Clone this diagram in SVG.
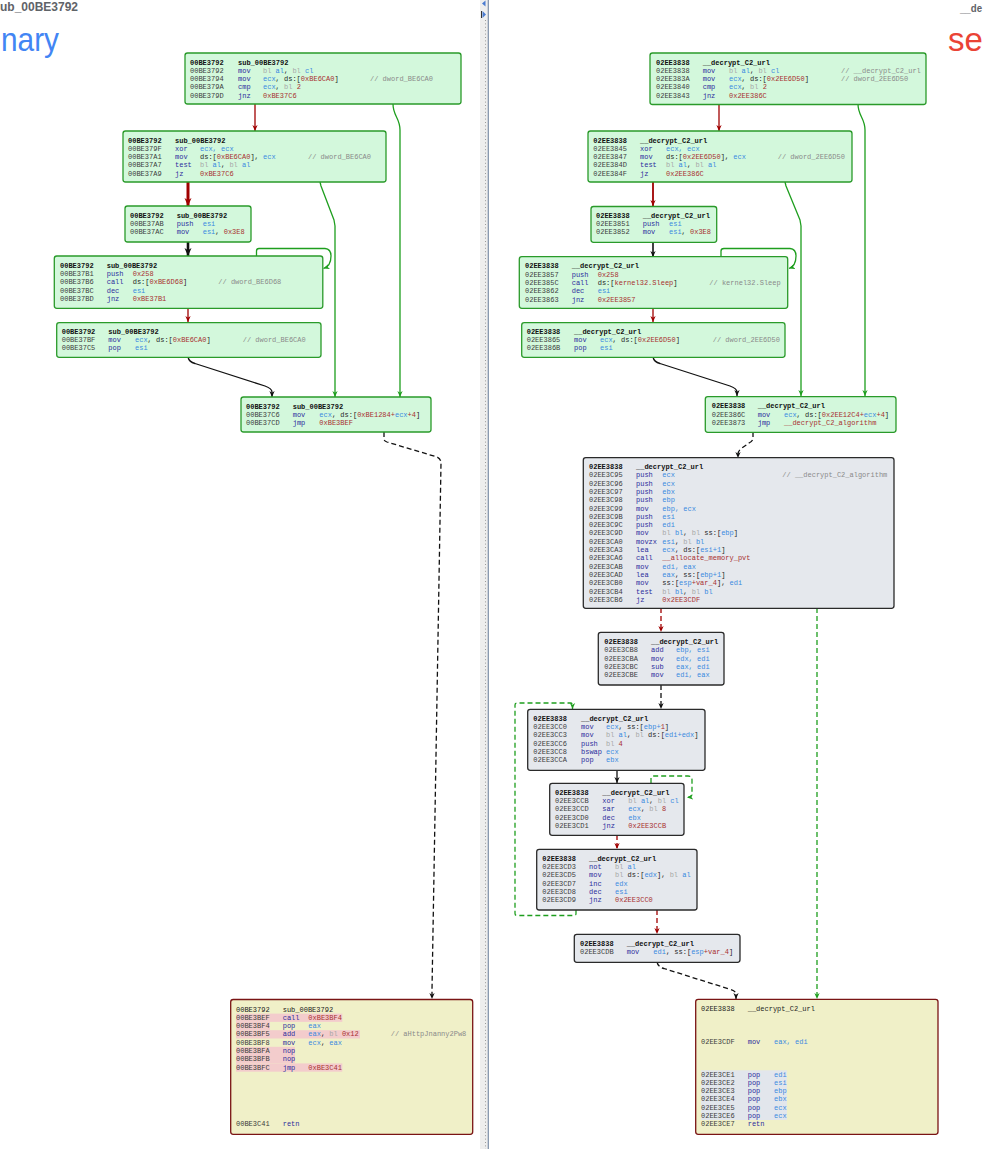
<svg xmlns="http://www.w3.org/2000/svg" width="988" height="1149" viewBox="0 0 988 1149">
<style>
.t{font-family:"Liberation Mono","DejaVu Sans Mono",monospace;font-size:7px;white-space:pre}
.a{fill:#3c3c3c}
.h{fill:#111;font-weight:bold}
.y{fill:#222}
.m{fill:#2c2c9c}
.r{fill:#3a8ae0}
.g{fill:#a8a8a8}
.n{fill:#a83030}
.k{fill:#222}
.c{fill:#8a8a8a}
.ng{fill:#d3f8dc;stroke:#2a9a2a;stroke-width:1.3}
.nb{fill:#e5e8ed;stroke:#2a2a2a;stroke-width:1.3}
.ny{fill:#f0f0c8;stroke:#7a1414;stroke-width:1.3}
.e{fill:none;stroke-width:1.3;stroke-linejoin:round}
.er{stroke:#a00000}
.eg{stroke:#1e9e1e}
.ek{stroke:#111}
.d{stroke-dasharray:5 3}
.hp{fill:#f3cccc}
.hg{fill:#e2e6ec}
</style>
<defs>
<marker id="mr" viewBox="0 0 8 8" refX="8" refY="4" markerWidth="6" markerHeight="6" markerUnits="userSpaceOnUse" orient="auto"><path d="M0,0.5 L8,4 L0,7.5 L2.2,4 z" fill="#a00000"/></marker>
<marker id="mg" viewBox="0 0 8 8" refX="8" refY="4" markerWidth="6" markerHeight="6" markerUnits="userSpaceOnUse" orient="auto"><path d="M0,0.5 L8,4 L0,7.5 L2.2,4 z" fill="#1e9e1e"/></marker>
<marker id="mk" viewBox="0 0 8 8" refX="8" refY="4" markerWidth="6" markerHeight="6" markerUnits="userSpaceOnUse" orient="auto"><path d="M0,0.5 L8,4 L0,7.5 L2.2,4 z" fill="#111"/></marker>
<marker id="mrb" viewBox="0 0 8 8" refX="8" refY="4" markerWidth="8" markerHeight="8" markerUnits="userSpaceOnUse" orient="auto"><path d="M0,0.5 L8,4 L0,7.5 L2.2,4 z" fill="#a00000"/></marker>
<marker id="mkb" viewBox="0 0 8 8" refX="8" refY="4" markerWidth="8" markerHeight="8" markerUnits="userSpaceOnUse" orient="auto"><path d="M0,0.5 L8,4 L0,7.5 L2.2,4 z" fill="#111"/></marker>
</defs>
<rect x="0" y="0" width="988" height="1149" fill="#ffffff"/>

<g id="headers">
<text x="0" y="11" font-family="Liberation Sans,Arial,sans-serif" font-size="12" font-weight="bold" fill="#5f6368">ub_00BE3792</text>
<text x="1" y="51" font-family="Liberation Sans,Arial,sans-serif" font-size="33" fill="#4285f4" textLength="58" lengthAdjust="spacingAndGlyphs">nary</text>
<text x="960" y="11.5" font-family="Liberation Sans,Arial,sans-serif" font-size="11.5" font-weight="bold" fill="#5f6368" textLength="22" lengthAdjust="spacingAndGlyphs">__de</text>
<text x="948" y="51" font-family="Liberation Sans,Arial,sans-serif" font-size="33" fill="#ea4335">se</text>
</g>

<g id="divider">
<rect x="480" y="0" width="8" height="1149" fill="#eeeeee"/>
<line x1="485.5" y1="20" x2="485.5" y2="1149" stroke="#9a9a9a" stroke-width="1" stroke-dasharray="1 2.4"/>
<line x1="488.3" y1="0" x2="488.3" y2="1149" stroke="#7d8fa8" stroke-width="1.2"/>
<path d="M485.5,0.5 L482,3.5 L485.5,6.5 z" fill="#4a7bd0"/>
<rect x="481" y="11" width="1" height="7" fill="#333"/>
<path d="M482.5,11 L486,14.5 L482.5,18 z" fill="#4a7bd0"/>
</g>

<g id="edges">
<path class="e er" d="M255,104 V131" marker-end="url(#mr)"/>
<path class="e eg" d="M393,104 C393,116 400,118 400,130 V397" marker-end="url(#mg)"/>
<path class="e eg" d="M320,182 L321,186 L334,220 L335,226 V397" marker-end="url(#mg)"/>
<path class="e er" style="stroke-width:3" d="M188,182 V206" marker-end="url(#mrb)"/>
<path class="e ek" style="stroke-width:2.6" d="M188,242 V256" marker-end="url(#mkb)"/>
<path class="e eg" d="M256.5,256 V251 Q256.5,248.5 259,248.5 H325 Q331,249 331,256 Q331,266 323.5,268.5" marker-end="url(#mg)"/>
<path class="e er" d="M188,308 V322" marker-end="url(#mr)"/>
<path class="e ek" d="M188,357 Q189,362 195,363.5 L265,386 Q272,388.5 272,392 V397" marker-end="url(#mk)"/>
<path class="e ek d" d="M384,432 V439 Q384,441 387,442 L437,457 Q441,459 441,463 L432,990 V999" marker-end="url(#mk)"/>

<path class="e er" d="M719,104 V131" marker-end="url(#mr)"/>
<path class="e eg" d="M858,104 C858,116 865,118 865,130 V396" marker-end="url(#mg)"/>
<path class="e eg" d="M785,182 L786,186 L800,220 L801,226 V396" marker-end="url(#mg)"/>
<path class="e er" style="stroke-width:1.8" d="M653,182 V206" marker-end="url(#mr)"/>
<path class="e ek" style="stroke-width:1.6" d="M653,242 V257" marker-end="url(#mk)"/>
<path class="e eg" d="M721,257 V251 Q721,248.5 724,248.5 H790 Q796,249 796,256 Q796,266 789,268.5" marker-end="url(#mg)"/>
<path class="e er" d="M653,308 V322" marker-end="url(#mr)"/>
<path class="e ek" d="M653,357 Q654,362 660,363.5 L730,386 Q737,388.5 737,392 V396" marker-end="url(#mk)"/>
<path class="e ek d" d="M753,432 V438 Q753,441 749,443 L742,448 Q738,451 738,454 V458" marker-end="url(#mk)"/>
<path class="e er d" d="M661,608 V632" marker-end="url(#mr)"/>
<path class="e eg d" d="M817,608 V999" marker-end="url(#mg)"/>
<path class="e ek d" d="M661,685 V709" marker-end="url(#mk)"/>
<path class="e eg d" d="M576,910 V913.5 Q576,915.5 574,915.5 H517 Q515,915.5 515,913.5 V705 Q515,703 517,703 H570.5 Q572.5,703 572.5,705.5 V709" marker-end="url(#mg)"/>
<path class="e ek" d="M617,770 V783" marker-end="url(#mk)"/>
<path class="e eg d" d="M651,783 V778 Q651,776 653,776 H688 Q692,776 692,780 V794 Q692,797 687,797.5" marker-end="url(#mg)"/>
<path class="e er d" d="M617,835 V849" marker-end="url(#mr)"/>
<path class="e er d" d="M657,910 V934" marker-end="url(#mr)"/>
<path class="e ek d" d="M657,962 Q658,967 664,968.5 L729,989 Q736,991 736,994 V999" marker-end="url(#mk)"/>
</g>

<g id="L1">
<rect class="ng" x="185" y="53" width="276" height="51" rx="2.5"/>
<text class="t" y="64.5"><tspan x="190" class="h">00BE3792</tspan><tspan x="238" class="h">sub_00BE3792</tspan></text>
<text class="t" y="72.8"><tspan x="190" class="a">00BE3792</tspan><tspan x="238" class="m">mov</tspan><tspan x="263" class="g">bl </tspan><tspan class="r">al</tspan><tspan class="k">, </tspan><tspan class="g">bl </tspan><tspan class="r">cl</tspan></text>
<text class="t" y="81.1"><tspan x="190" class="a">00BE3794</tspan><tspan x="238" class="m">mov</tspan><tspan x="263" class="r">ecx</tspan><tspan class="k">, ds:[</tspan><tspan class="n">0xBE6CA0</tspan><tspan class="k">]</tspan><tspan x="370" class="c">// dword_BE6CA0</tspan></text>
<text class="t" y="89.4"><tspan x="190" class="a">00BE379A</tspan><tspan x="238" class="m">cmp</tspan><tspan x="263" class="r">ecx</tspan><tspan class="k">, </tspan><tspan class="g">bl </tspan><tspan class="n">2</tspan></text>
<text class="t" y="97.7"><tspan x="190" class="a">00BE379D</tspan><tspan x="238" class="m">jnz</tspan><tspan x="263" class="n">0xBE37C6</tspan></text>
</g>

<g id="L2">
<rect class="ng" x="123" y="131" width="263" height="51" rx="2.5"/>
<text class="t" y="142.5"><tspan x="128" class="h">00BE3792</tspan><tspan x="175" class="h">sub_00BE3792</tspan></text>
<text class="t" y="150.8"><tspan x="128" class="a">00BE379F</tspan><tspan x="175" class="m">xor</tspan><tspan x="200" class="r">ecx, ecx</tspan></text>
<text class="t" y="159.1"><tspan x="128" class="a">00BE37A1</tspan><tspan x="175" class="m">mov</tspan><tspan x="200" class="k">ds:[</tspan><tspan class="n">0xBE6CA0</tspan><tspan class="k">], </tspan><tspan class="r">ecx</tspan><tspan x="308" class="c">// dword_BE6CA0</tspan></text>
<text class="t" y="167.4"><tspan x="128" class="a">00BE37A7</tspan><tspan x="175" class="m">test</tspan><tspan x="200" class="g">bl </tspan><tspan class="r">al</tspan><tspan class="k">, </tspan><tspan class="g">bl </tspan><tspan class="r">al</tspan></text>
<text class="t" y="175.7"><tspan x="128" class="a">00BE37A9</tspan><tspan x="175" class="m">jz</tspan><tspan x="200" class="n">0xBE37C6</tspan></text>
</g>

<g id="L3">
<rect class="ng" x="125" y="206" width="126" height="36" rx="2.5"/>
<text class="t" y="217.5"><tspan x="130" class="h">00BE3792</tspan><tspan x="176.7" class="h">sub_00BE3792</tspan></text>
<text class="t" y="225.8"><tspan x="130" class="a">00BE37AB</tspan><tspan x="176.7" class="m">push</tspan><tspan x="202.7" class="r">esi</tspan></text>
<text class="t" y="234.1"><tspan x="130" class="a">00BE37AC</tspan><tspan x="176.7" class="m">mov</tspan><tspan x="202.7" class="r">esi</tspan><tspan class="k">, </tspan><tspan class="n">0x3E8</tspan></text>
</g>

<g id="L4">
<rect class="ng" x="54.3" y="256" width="268.5" height="52.3" rx="2.5"/>
<text class="t" y="267.8"><tspan x="60" class="h">00BE3792</tspan><tspan x="106.7" class="h">sub_00BE3792</tspan></text>
<text class="t" y="276.1"><tspan x="60" class="a">00BE37B1</tspan><tspan x="106.7" class="m">push</tspan><tspan x="132.7" class="n">0x258</tspan></text>
<text class="t" y="284.4"><tspan x="60" class="a">00BE37B6</tspan><tspan x="106.7" class="m">call</tspan><tspan x="132.7" class="k">ds:[</tspan><tspan class="n">0xBE6D68</tspan><tspan class="k">]</tspan><tspan x="218.3" class="c">// dword_BE6D68</tspan></text>
<text class="t" y="292.7"><tspan x="60" class="a">00BE37BC</tspan><tspan x="106.7" class="m">dec</tspan><tspan x="132.7" class="r">esi</tspan></text>
<text class="t" y="301"><tspan x="60" class="a">00BE37BD</tspan><tspan x="106.7" class="m">jnz</tspan><tspan x="132.7" class="n">0xBE37B1</tspan></text>
</g>

<g id="L5">
<rect class="ng" x="56.7" y="322.7" width="264.3" height="34.6" rx="2.5"/>
<text class="t" y="333.8"><tspan x="61.7" class="h">00BE3792</tspan><tspan x="108.3" class="h">sub_00BE3792</tspan></text>
<text class="t" y="342.1"><tspan x="61.7" class="a">00BE37BF</tspan><tspan x="108.3" class="m">mov</tspan><tspan x="135" class="r">ecx</tspan><tspan class="k">, ds:[</tspan><tspan class="n">0xBE6CA0</tspan><tspan class="k">]</tspan><tspan x="242.7" class="c">// dword_BE6CA0</tspan></text>
<text class="t" y="350.4"><tspan x="61.7" class="a">00BE37C5</tspan><tspan x="108.3" class="m">pop</tspan><tspan x="135" class="r">esi</tspan></text>
</g>

<g id="L6">
<rect class="ng" x="241" y="397" width="190" height="35" rx="2.5"/>
<text class="t" y="408.5"><tspan x="246" class="h">00BE3792</tspan><tspan x="292.7" class="h">sub_00BE3792</tspan></text>
<text class="t" y="416.8"><tspan x="246" class="a">00BE37C6</tspan><tspan x="292.7" class="m">mov</tspan><tspan x="319.3" class="r">ecx</tspan><tspan class="k">, ds:[</tspan><tspan class="n">0xBE1284+</tspan><tspan class="r">ecx</tspan><tspan class="n">+4</tspan><tspan class="k">]</tspan></text>
<text class="t" y="425.1"><tspan x="246" class="a">00BE37CD</tspan><tspan x="292.7" class="m">jmp</tspan><tspan x="319.3" class="n">0xBE3BEF</tspan></text>
</g>

<g id="L7">
<rect class="ny" x="230.7" y="999.5" width="242" height="134.8" rx="2.5"/>
<rect class="hp" x="236" y="1013.6" width="106.3" height="8.3"/>
<rect class="hp" x="236" y="1021.9" width="34" height="8.3"/>
<rect class="hp" x="236" y="1030.2" width="124" height="8.3"/>
<rect class="hp" x="236" y="1046.8" width="59" height="16.6"/>
<rect class="hp" x="236" y="1063.4" width="106.3" height="8.3"/>
<text class="t" y="1011.5"><tspan x="236" class="y">00BE3792</tspan><tspan x="282.7" class="y">sub_00BE3792</tspan></text>
<text class="t" y="1019.8"><tspan x="236" class="a">00BE3BEF</tspan><tspan x="282.7" class="m">call</tspan><tspan x="308.3" class="n">0xBE3BF4</tspan></text>
<text class="t" y="1028.1"><tspan x="236" class="a">00BE3BF4</tspan><tspan x="282.7" class="m">pop</tspan><tspan x="308.3" class="r">eax</tspan></text>
<text class="t" y="1036.4"><tspan x="236" class="a">00BE3BF5</tspan><tspan x="282.7" class="m">add</tspan><tspan x="308.3" class="r">eax</tspan><tspan class="k">, </tspan><tspan class="g">bl </tspan><tspan class="n">0x12</tspan><tspan x="390.7" class="c">// aHttpJnanny2Pw8</tspan></text>
<text class="t" y="1044.7"><tspan x="236" class="a">00BE3BF8</tspan><tspan x="282.7" class="m">mov</tspan><tspan x="308.3" class="r">ecx</tspan><tspan class="k">, </tspan><tspan class="r">eax</tspan></text>
<text class="t" y="1053"><tspan x="236" class="a">00BE3BFA</tspan><tspan x="282.7" class="m">nop</tspan></text>
<text class="t" y="1061.3"><tspan x="236" class="a">00BE3BFB</tspan><tspan x="282.7" class="m">nop</tspan></text>
<text class="t" y="1069.6"><tspan x="236" class="a">00BE3BFC</tspan><tspan x="282.7" class="m">jmp</tspan><tspan x="308.3" class="n">0xBE3C41</tspan></text>
<text class="t" y="1126.3"><tspan x="236" class="a">00BE3C41</tspan><tspan x="282.7" class="m">retn</tspan></text>
</g>

<g id="R1">
<rect class="ng" x="650" y="53" width="276" height="51.5" rx="2.5"/>
<text class="t" y="64.5"><tspan x="656" class="h">02EE3838</tspan><tspan x="702.7" class="h">__decrypt_C2_url</tspan></text>
<text class="t" y="72.8"><tspan x="656" class="a">02EE3838</tspan><tspan x="702.7" class="m">mov</tspan><tspan x="729" class="g">bl </tspan><tspan class="r">al</tspan><tspan class="k">, </tspan><tspan class="g">bl </tspan><tspan class="r">cl</tspan><tspan x="841" class="c">// __decrypt_C2_url</tspan></text>
<text class="t" y="81.1"><tspan x="656" class="a">02EE383A</tspan><tspan x="702.7" class="m">mov</tspan><tspan x="729" class="r">ecx</tspan><tspan class="k">, ds:[</tspan><tspan class="n">0x2EE6D50</tspan><tspan class="k">]</tspan><tspan x="841" class="c">// dword_2EE6D50</tspan></text>
<text class="t" y="89.4"><tspan x="656" class="a">02EE3840</tspan><tspan x="702.7" class="m">cmp</tspan><tspan x="729" class="r">ecx</tspan><tspan class="k">, </tspan><tspan class="g">bl </tspan><tspan class="n">2</tspan></text>
<text class="t" y="97.7"><tspan x="656" class="a">02EE3843</tspan><tspan x="702.7" class="m">jnz</tspan><tspan x="729" class="n">0x2EE386C</tspan></text>
</g>

<g id="R2">
<rect class="ng" x="588" y="131" width="264" height="51" rx="2.5"/>
<text class="t" y="142.5"><tspan x="593.3" class="h">02EE3838</tspan><tspan x="640" class="h">__decrypt_C2_url</tspan></text>
<text class="t" y="150.8"><tspan x="593.3" class="a">02EE3845</tspan><tspan x="640" class="m">xor</tspan><tspan x="666" class="r">ecx, ecx</tspan></text>
<text class="t" y="159.1"><tspan x="593.3" class="a">02EE3847</tspan><tspan x="640" class="m">mov</tspan><tspan x="666" class="k">ds:[</tspan><tspan class="n">0x2EE6D50</tspan><tspan class="k">], </tspan><tspan class="r">ecx</tspan><tspan x="777.7" class="c">// dword_2EE6D50</tspan></text>
<text class="t" y="167.4"><tspan x="593.3" class="a">02EE384D</tspan><tspan x="640" class="m">test</tspan><tspan x="666" class="g">bl </tspan><tspan class="r">al</tspan><tspan class="k">, </tspan><tspan class="g">bl </tspan><tspan class="r">al</tspan></text>
<text class="t" y="175.7"><tspan x="593.3" class="a">02EE384F</tspan><tspan x="640" class="m">jz</tspan><tspan x="666" class="n">0x2EE386C</tspan></text>
</g>

<g id="R3">
<rect class="ng" x="591" y="206.5" width="125.7" height="35.8" rx="2.5"/>
<text class="t" y="217.8"><tspan x="596" class="h">02EE3838</tspan><tspan x="642.7" class="h">__decrypt_C2_url</tspan></text>
<text class="t" y="226.1"><tspan x="596" class="a">02EE3851</tspan><tspan x="642.7" class="m">push</tspan><tspan x="669" class="r">esi</tspan></text>
<text class="t" y="234.4"><tspan x="596" class="a">02EE3852</tspan><tspan x="642.7" class="m">mov</tspan><tspan x="669" class="r">esi</tspan><tspan class="k">, </tspan><tspan class="n">0x3E8</tspan></text>
</g>

<g id="R4">
<rect class="ng" x="519.3" y="256.7" width="268.4" height="51.6" rx="2.5"/>
<text class="t" y="268.3"><tspan x="525" class="h">02EE3838</tspan><tspan x="571.7" class="h">__decrypt_C2_url</tspan></text>
<text class="t" y="276.6"><tspan x="525" class="a">02EE3857</tspan><tspan x="571.7" class="m">push</tspan><tspan x="597.7" class="n">0x258</tspan></text>
<text class="t" y="284.9"><tspan x="525" class="a">02EE385C</tspan><tspan x="571.7" class="m">call</tspan><tspan x="597.7" class="k">ds:[</tspan><tspan class="n">kernel32.Sleep</tspan><tspan class="k">]</tspan><tspan x="709.3" class="c">// kernel32.Sleep</tspan></text>
<text class="t" y="293.2"><tspan x="525" class="a">02EE3862</tspan><tspan x="571.7" class="m">dec</tspan><tspan x="597.7" class="r">esi</tspan></text>
<text class="t" y="301.5"><tspan x="525" class="a">02EE3863</tspan><tspan x="571.7" class="m">jnz</tspan><tspan x="597.7" class="n">0x2EE3857</tspan></text>
</g>

<g id="R5">
<rect class="ng" x="521.7" y="322.7" width="263.3" height="34.6" rx="2.5"/>
<text class="t" y="333.8"><tspan x="526.7" class="h">02EE3838</tspan><tspan x="574" class="h">__decrypt_C2_url</tspan></text>
<text class="t" y="342.1"><tspan x="526.7" class="a">02EE3865</tspan><tspan x="574" class="m">mov</tspan><tspan x="600" class="r">ecx</tspan><tspan class="k">, ds:[</tspan><tspan class="n">0x2EE6D50</tspan><tspan class="k">]</tspan><tspan x="712.7" class="c">// dword_2EE6D50</tspan></text>
<text class="t" y="350.4"><tspan x="526.7" class="a">02EE386B</tspan><tspan x="574" class="m">pop</tspan><tspan x="600" class="r">esi</tspan></text>
</g>

<g id="R6">
<rect class="ng" x="705.3" y="396.7" width="190.7" height="35.6" rx="2.5"/>
<text class="t" y="408.2"><tspan x="711.7" class="h">02EE3838</tspan><tspan x="757.7" class="h">__decrypt_C2_url</tspan></text>
<text class="t" y="416.5"><tspan x="711.7" class="a">02EE386C</tspan><tspan x="757.7" class="m">mov</tspan><tspan x="784" class="r">ecx</tspan><tspan class="k">, ds:[</tspan><tspan class="n">0x2EE12C4+</tspan><tspan class="r">ecx</tspan><tspan class="n">+4</tspan><tspan class="k">]</tspan></text>
<text class="t" y="424.8"><tspan x="711.7" class="a">02EE3873</tspan><tspan x="757.7" class="m">jmp</tspan><tspan x="784" class="n">__decrypt_C2_algorithm</tspan></text>
</g>

<g id="R7">
<rect class="nb" x="583.3" y="457.7" width="310.7" height="150.6" rx="2.5"/>
<text class="t" y="469"><tspan x="589" class="h">02EE3838</tspan><tspan x="636" class="h">__decrypt_C2_url</tspan></text>
<text class="t" y="477.3"><tspan x="589" class="a">02EE3C95</tspan><tspan x="636" class="m">push</tspan><tspan x="662.3" class="r">ecx</tspan><tspan x="782.3" class="c">// __decrypt_C2_algorithm</tspan></text>
<text class="t" y="485.6"><tspan x="589" class="a">02EE3C96</tspan><tspan x="636" class="m">push</tspan><tspan x="662.3" class="r">ecx</tspan></text>
<text class="t" y="493.9"><tspan x="589" class="a">02EE3C97</tspan><tspan x="636" class="m">push</tspan><tspan x="662.3" class="r">ebx</tspan></text>
<text class="t" y="502.2"><tspan x="589" class="a">02EE3C98</tspan><tspan x="636" class="m">push</tspan><tspan x="662.3" class="r">ebp</tspan></text>
<text class="t" y="510.5"><tspan x="589" class="a">02EE3C99</tspan><tspan x="636" class="m">mov</tspan><tspan x="662.3" class="r">ebp, ecx</tspan></text>
<text class="t" y="518.8"><tspan x="589" class="a">02EE3C9B</tspan><tspan x="636" class="m">push</tspan><tspan x="662.3" class="r">esi</tspan></text>
<text class="t" y="527.1"><tspan x="589" class="a">02EE3C9C</tspan><tspan x="636" class="m">push</tspan><tspan x="662.3" class="r">edi</tspan></text>
<text class="t" y="535.4"><tspan x="589" class="a">02EE3C9D</tspan><tspan x="636" class="m">mov</tspan><tspan x="662.3" class="g">bl </tspan><tspan class="r">bl</tspan><tspan class="k">, </tspan><tspan class="g">bl </tspan><tspan class="k">ss:[</tspan><tspan class="r">ebp</tspan><tspan class="k">]</tspan></text>
<text class="t" y="543.7"><tspan x="589" class="a">02EE3CA0</tspan><tspan x="636" class="m">movzx</tspan><tspan x="662.3" class="r">esi</tspan><tspan class="k">, </tspan><tspan class="g">bl </tspan><tspan class="r">bl</tspan></text>
<text class="t" y="552"><tspan x="589" class="a">02EE3CA3</tspan><tspan x="636" class="m">lea</tspan><tspan x="662.3" class="r">ecx</tspan><tspan class="k">, ds:[</tspan><tspan class="r">esi+1</tspan><tspan class="k">]</tspan></text>
<text class="t" y="560.3"><tspan x="589" class="a">02EE3CA6</tspan><tspan x="636" class="m">call</tspan><tspan x="662.3" class="n">__allocate_memory_pvt</tspan></text>
<text class="t" y="568.6"><tspan x="589" class="a">02EE3CAB</tspan><tspan x="636" class="m">mov</tspan><tspan x="662.3" class="r">edi, eax</tspan></text>
<text class="t" y="576.9"><tspan x="589" class="a">02EE3CAD</tspan><tspan x="636" class="m">lea</tspan><tspan x="662.3" class="r">eax</tspan><tspan class="k">, ss:[</tspan><tspan class="r">ebp+1</tspan><tspan class="k">]</tspan></text>
<text class="t" y="585.2"><tspan x="589" class="a">02EE3CB0</tspan><tspan x="636" class="m">mov</tspan><tspan x="662.3" class="k">ss:[</tspan><tspan class="r">esp</tspan><tspan class="n">+var_4</tspan><tspan class="k">], </tspan><tspan class="r">edi</tspan></text>
<text class="t" y="593.5"><tspan x="589" class="a">02EE3CB4</tspan><tspan x="636" class="m">test</tspan><tspan x="662.3" class="g">bl </tspan><tspan class="r">bl</tspan><tspan class="k">, </tspan><tspan class="g">bl </tspan><tspan class="r">bl</tspan></text>
<text class="t" y="601.8"><tspan x="589" class="a">02EE3CB6</tspan><tspan x="636" class="m">jz</tspan><tspan x="662.3" class="n">0x2EE3CDF</tspan></text>
</g>

<g id="R8">
<rect class="nb" x="598.3" y="632.3" width="125.7" height="52.7" rx="2.5"/>
<text class="t" y="644"><tspan x="604.3" class="h">02EE3838</tspan><tspan x="651" class="h">__decrypt_C2_url</tspan></text>
<text class="t" y="652.3"><tspan x="604.3" class="a">02EE3CB8</tspan><tspan x="651" class="m">add</tspan><tspan x="676" class="r">ebp, esi</tspan></text>
<text class="t" y="660.6"><tspan x="604.3" class="a">02EE3CBA</tspan><tspan x="651" class="m">mov</tspan><tspan x="676" class="r">edx, edi</tspan></text>
<text class="t" y="668.9"><tspan x="604.3" class="a">02EE3CBC</tspan><tspan x="651" class="m">sub</tspan><tspan x="676" class="r">eax, edi</tspan></text>
<text class="t" y="677.2"><tspan x="604.3" class="a">02EE3CBE</tspan><tspan x="651" class="m">mov</tspan><tspan x="676" class="r">edi, eax</tspan></text>
</g>

<g id="R9">
<rect class="nb" x="527.7" y="709.3" width="177.3" height="61" rx="2.5"/>
<text class="t" y="720.8"><tspan x="533.3" class="h">02EE3838</tspan><tspan x="581" class="h">__decrypt_C2_url</tspan></text>
<text class="t" y="729.1"><tspan x="533.3" class="a">02EE3CC0</tspan><tspan x="581" class="m">mov</tspan><tspan x="606" class="r">ecx</tspan><tspan class="k">, ss:[</tspan><tspan class="r">ebp+</tspan><tspan class="n">1</tspan><tspan class="k">]</tspan></text>
<text class="t" y="737.4"><tspan x="533.3" class="a">02EE3CC3</tspan><tspan x="581" class="m">mov</tspan><tspan x="606" class="g">bl </tspan><tspan class="r">al</tspan><tspan class="k">, </tspan><tspan class="g">bl </tspan><tspan class="k">ds:[</tspan><tspan class="r">edi+edx</tspan><tspan class="k">]</tspan></text>
<text class="t" y="745.7"><tspan x="533.3" class="a">02EE3CC6</tspan><tspan x="581" class="m">push</tspan><tspan x="606" class="g">bl </tspan><tspan class="n">4</tspan></text>
<text class="t" y="754"><tspan x="533.3" class="a">02EE3CC8</tspan><tspan x="581" class="m">bswap</tspan><tspan x="606" class="r">ecx</tspan></text>
<text class="t" y="762.3"><tspan x="533.3" class="a">02EE3CCA</tspan><tspan x="581" class="m">pop</tspan><tspan x="606" class="r">ebx</tspan></text>
</g>

<g id="R10">
<rect class="nb" x="549.7" y="783.3" width="134.3" height="52" rx="2.5"/>
<text class="t" y="794.8"><tspan x="555" class="h">02EE3838</tspan><tspan x="602.3" class="h">__decrypt_C2_url</tspan></text>
<text class="t" y="803.1"><tspan x="555" class="a">02EE3CCB</tspan><tspan x="602.3" class="m">xor</tspan><tspan x="628.3" class="g">bl </tspan><tspan class="r">al</tspan><tspan class="k">, </tspan><tspan class="g">bl </tspan><tspan class="r">cl</tspan></text>
<text class="t" y="811.4"><tspan x="555" class="a">02EE3CCD</tspan><tspan x="602.3" class="m">sar</tspan><tspan x="628.3" class="r">ecx</tspan><tspan class="k">, </tspan><tspan class="g">bl </tspan><tspan class="n">8</tspan></text>
<text class="t" y="819.7"><tspan x="555" class="a">02EE3CD0</tspan><tspan x="602.3" class="m">dec</tspan><tspan x="628.3" class="r">ebx</tspan></text>
<text class="t" y="828"><tspan x="555" class="a">02EE3CD1</tspan><tspan x="602.3" class="m">jnz</tspan><tspan x="628.3" class="n">0x2EE3CCB</tspan></text>
</g>

<g id="R11">
<rect class="nb" x="536.7" y="849.3" width="160.3" height="60.7" rx="2.5"/>
<text class="t" y="860.8"><tspan x="542.3" class="h">02EE3838</tspan><tspan x="589" class="h">__decrypt_C2_url</tspan></text>
<text class="t" y="869.1"><tspan x="542.3" class="a">02EE3CD3</tspan><tspan x="589" class="m">not</tspan><tspan x="615" class="g">bl </tspan><tspan class="r">al</tspan></text>
<text class="t" y="877.4"><tspan x="542.3" class="a">02EE3CD5</tspan><tspan x="589" class="m">mov</tspan><tspan x="615" class="g">bl </tspan><tspan class="k">ds:[</tspan><tspan class="r">edx</tspan><tspan class="k">], </tspan><tspan class="g">bl </tspan><tspan class="r">al</tspan></text>
<text class="t" y="885.7"><tspan x="542.3" class="a">02EE3CD7</tspan><tspan x="589" class="m">inc</tspan><tspan x="615" class="r">edx</tspan></text>
<text class="t" y="894"><tspan x="542.3" class="a">02EE3CD8</tspan><tspan x="589" class="m">dec</tspan><tspan x="615" class="r">esi</tspan></text>
<text class="t" y="902.3"><tspan x="542.3" class="a">02EE3CD9</tspan><tspan x="589" class="m">jnz</tspan><tspan x="615" class="n">0x2EE3CC0</tspan></text>
</g>

<g id="R12">
<rect class="nb" x="574.3" y="934.3" width="165.7" height="28" rx="2.5"/>
<text class="t" y="945.7"><tspan x="580" class="h">02EE3838</tspan><tspan x="626.7" class="h">__decrypt_C2_url</tspan></text>
<text class="t" y="954"><tspan x="580" class="a">02EE3CDB</tspan><tspan x="626.7" class="m">mov</tspan><tspan x="653.3" class="r">edi</tspan><tspan class="k">, ss:[</tspan><tspan class="r">esp</tspan><tspan class="n">+var_4</tspan><tspan class="k">]</tspan></text>
</g>

<g id="R13">
<rect class="ny" x="695.7" y="999.3" width="242.3" height="135" rx="2.5"/>
<rect class="hg" x="701" y="1070.3" width="86" height="49.7"/>
<text class="t" y="1010.7"><tspan x="701" class="y">02EE3838</tspan><tspan x="747.7" class="y">__decrypt_C2_url</tspan></text>
<text class="t" y="1044.2"><tspan x="701" class="a">02EE3CDF</tspan><tspan x="747.7" class="m">mov</tspan><tspan x="774" class="r">eax, edi</tspan></text>
<text class="t" y="1076.5"><tspan x="701" class="a">02EE3CE1</tspan><tspan x="747.7" class="m">pop</tspan><tspan x="774" class="r">edi</tspan></text>
<text class="t" y="1084.8"><tspan x="701" class="a">02EE3CE2</tspan><tspan x="747.7" class="m">pop</tspan><tspan x="774" class="r">esi</tspan></text>
<text class="t" y="1093.1"><tspan x="701" class="a">02EE3CE3</tspan><tspan x="747.7" class="m">pop</tspan><tspan x="774" class="r">ebp</tspan></text>
<text class="t" y="1101.4"><tspan x="701" class="a">02EE3CE4</tspan><tspan x="747.7" class="m">pop</tspan><tspan x="774" class="r">ebx</tspan></text>
<text class="t" y="1109.7"><tspan x="701" class="a">02EE3CE5</tspan><tspan x="747.7" class="m">pop</tspan><tspan x="774" class="r">ecx</tspan></text>
<text class="t" y="1118"><tspan x="701" class="a">02EE3CE6</tspan><tspan x="747.7" class="m">pop</tspan><tspan x="774" class="r">ecx</tspan></text>
<text class="t" y="1126.3"><tspan x="701" class="a">02EE3CE7</tspan><tspan x="747.7" class="m">retn</tspan></text>
</g>
</svg>
